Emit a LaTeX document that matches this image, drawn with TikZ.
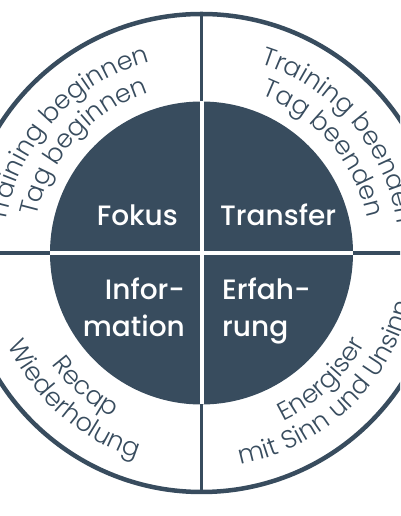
\documentclass[tikz,border=0pt]{standalone}
\usepackage{fontspec}
\IfFontExistsTF{Poppins Light}{\newfontfamily\ringfont{Poppins Light}}{\newfontfamily\ringfont{Poppins}}
\IfFontExistsTF{Poppins Medium}{\newfontfamily\quadfont{Poppins Medium}}{\newfontfamily\quadfont{Poppins}}
\usetikzlibrary{decorations.text, calc}
\definecolor{slate}{HTML}{384C5E}

\begin{document}
\begin{tikzpicture}[x=1pt, y=1pt,
            ring/.style={draw=slate, line width=4.5pt},
            cut/.style={draw=slate, line width=3.2pt},
            gap/.style={draw=white, line width=4pt},
            quad/.style={text=white, inner sep=0pt, font=\quadfont\fontsize{28}{28}\selectfont},
            arctext/.style={decorate, decoration={text along path, text align=center, text color=slate,
                text={|\ringfont\fontsize{25.5}{25.5}\selectfont|#1}}}]
            \useasboundingbox (0,0) rectangle (400,516);
            \clip (0,0) rectangle (400,516);
            \coordinate (c) at (201.5,263);
            \coordinate (top) at ($(c)+(90:239)$);
            \coordinate (bot) at ($(c)+(270:239)$);
            \coordinate (lft) at ($(c)+(180:239)$);
            \coordinate (rgt) at ($(c)+(0:239)$);
            % outer ring
            \draw[ring] (c) circle[radius=239];
            \draw[cut] (top) -- (bot) (lft) -- (rgt);
            % dark core
            \fill[slate] (c) circle[radius=151.5];
            \draw[gap] ($(c)+(90:151.5)$) -- ($(c)+(270:151.5)$);
            \draw[gap] ($(c)+(180:151.5)$) -- ($(c)+(0:151.5)$);
            \node[quad, anchor=base east] (fokus)    at (178,290) {Fokus};
            \node[quad, anchor=base west] (transfer) at (220,290) {Transfer};
            \node[quad, anchor=base east] (infor)    at (185,216) {Infor-};
            \node[quad, anchor=base east] (mation)   at (185,179) {mation};
            \node[quad, anchor=base west] (erfah)    at (222,216) {Erfah-};
            \node[quad, anchor=base west] (rung)     at (222,179) {rung};
            % ring texts
            \path[arctext={Training beginnen}] ($(c)+(198:198)$) arc[start angle=198, end angle=78, radius=198];
            \path[arctext={Tag beginnen}]      ($(c)+(198:169)$) arc[start angle=198, end angle=78, radius=169];
            \path[arctext={Training beenden}]  ($(c)+(100.5:198)$) arc[start angle=100.5, end angle=-19.5, radius=198];
            \path[arctext={Tag beenden}]       ($(c)+(100.5:169)$) arc[start angle=100.5, end angle=-19.5, radius=169];
            \path[arctext={Recap}]             ($(c)+(169:187)$) arc[start angle=169, end angle=289, radius=187];
            \path[arctext={Wiederholung}]      ($(c)+(169:215)$) arc[start angle=169, end angle=289, radius=215];
            \path[arctext={Energiser}]         ($(c)+(253.5:187)$) arc[start angle=253.5, end angle=373.5, radius=187];
            \path[arctext={mit Sinn und Unsinn}] ($(c)+(253.5:215)$) arc[start angle=253.5, end angle=373.5, radius=215];
        \end{tikzpicture}
\end{document}
